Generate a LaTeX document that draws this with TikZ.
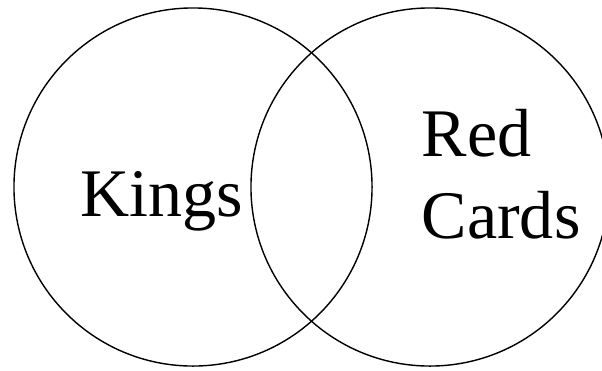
\documentclass[tikz,border=0pt]{standalone}
\usepackage{fontspec}
\setmainfont{Liberation Serif}

\begin{document}
\begin{tikzpicture}[x=0.025cm, y=-0.025cm, line width=1pt,
  set/.style={circle, draw, inner sep=0pt, minimum size=8.95cm},
  lbl/.style={inner sep=0pt, font=\fontsize{48.4pt}{58.3pt}\selectfont}]
  \useasboundingbox (0,0) rectangle (602,370);
  \clip (0,0) rectangle (602,370);

  % the two sets
  \node[set] (kingset) at (193,187) {};
  \node[set] (redset)  at (430,187) {};

  \node[lbl, anchor=base west] (kings) at (80,216) {Kings};
  \node[lbl, anchor=base west, align=left] (red) at (421,238) {Red\\Cards};
\end{tikzpicture}
\end{document}
